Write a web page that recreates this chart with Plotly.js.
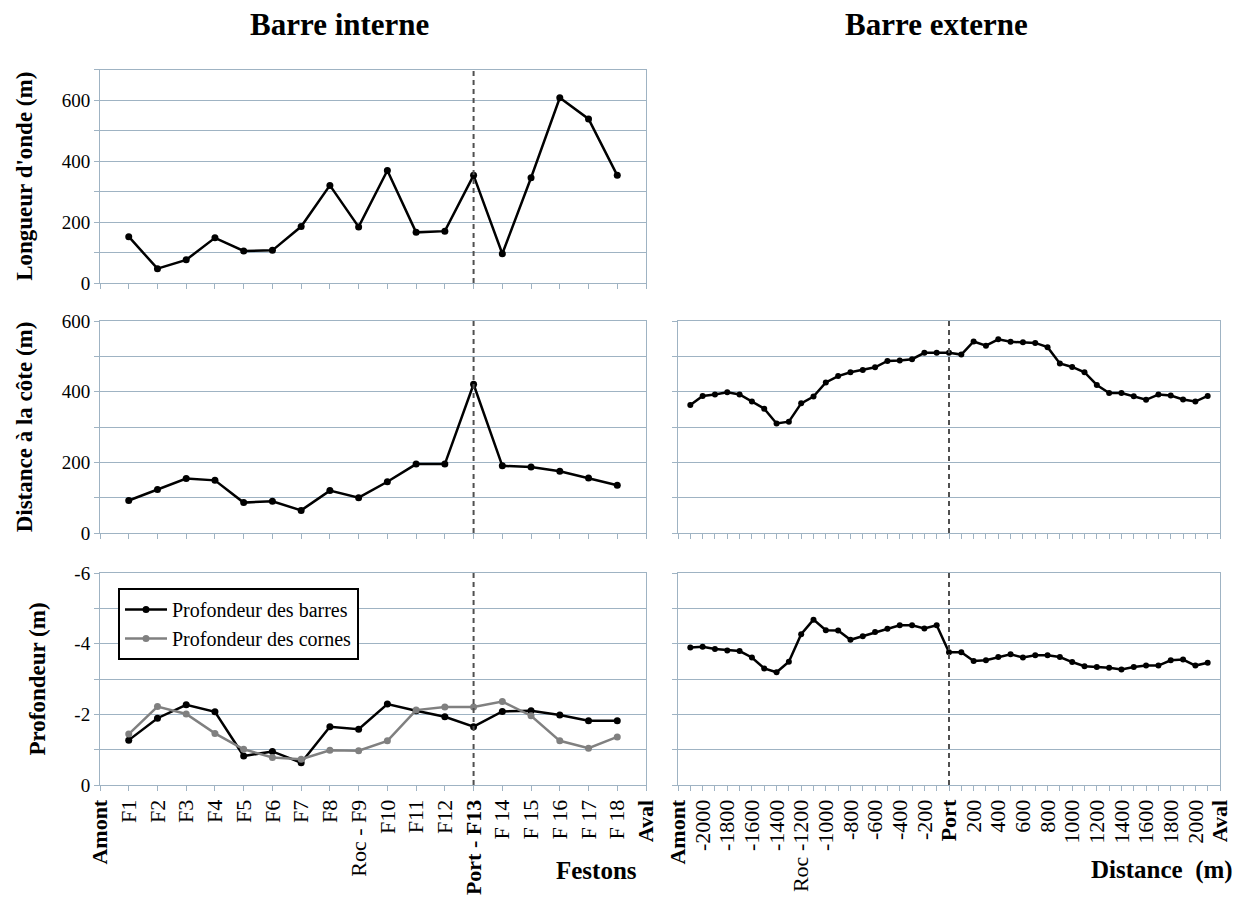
<!DOCTYPE html>
<html>
<head>
<meta charset="utf-8">
<script src="https://cdn.plot.ly/plotly-3.0.1.min.js"></script>
<style>html,body{margin:0;padding:0;background:#fff}#chart{width:1238px;height:906px}</style>
</head>
<body>
<div id="chart"></div>
<script>
// ---- Categories (Barre interne) ----
const festons = ['Amont','F1','F2','F3','F4','F5','F6','F7','F8','F9','F10','F11','F12','F13','F14','F15','F16','F17','F18','Aval'];
const festonLabels = ['<b>Amont</b>','F1','F2','F3','F4','F5','F6','F7','F8','Roc - F9','F10','F11','F12','<b>Port - F13</b>','F 14','F 15','F 16','F 17','F 18','<b>Aval</b>'];
const festonX = ['F1','F2','F3','F4','F5','F6','F7','F8','F9','F10','F11','F12','F13','F14','F15','F16','F17','F18'];

// ---- Series (Barre interne) ----
const longueurOnde = [152, 47, 76, 148, 105, 107, 185, 320, 184, 369, 166, 170, 353, 96, 345, 607, 538, 353];
const distanceCoteInterne = [92, 123, 154, 149, 86, 90, 64, 120, 100, 145, 195, 195, 421, 190, 187, 175, 156, 135];
const profondeurBarres = [-1.27, -1.89, -2.27, -2.07, -0.82, -0.95, -0.63, -1.65, -1.58, -2.29, -2.10, -1.93, -1.65, -2.08, -2.10, -1.98, -1.82, -1.82];
const profondeurCornes = [-1.44, -2.22, -2.01, -1.46, -1.01, -0.78, -0.73, -0.98, -0.97, -1.25, -2.12, -2.21, -2.21, -2.36, -1.96, -1.25, -1.04, -1.36];

// ---- Categories (Barre externe) ----
const distanceX = [-2100,-2000,-1900,-1800,-1700,-1600,-1500,-1400,-1300,-1200,-1100,-1000,-900,-800,-700,-600,-500,-400,-300,-200,-100,0,100,200,300,400,500,600,700,800,900,1000,1100,1200,1300,1400,1500,1600,1700,1800,1900,2000,2100];
const distanceCats = ['Amont'].concat(distanceX.map(String), ['Aval']);
const distanceLabels = ['<b>Amont</b>','','-2000','','-1800','','-1600','','-1400','','Roc -1200','','-1000','','-800','','-600','','-400','','-200','','<b>Port</b>','','200','','400','','600','','800','','1000','','1200','','1400','','1600','','1800','','2000','','<b>Aval</b>'];

// ---- Series (Barre externe) ----
const distanceCoteExterne = [362, 388, 392, 398, 392, 372, 352, 310, 315, 367, 386, 426, 444, 455, 461, 469, 487, 488, 492, 510, 510, 510, 505, 542, 530, 548, 541, 540, 538, 526, 480, 470, 455, 419, 396, 396, 387, 377, 392, 389, 378, 372, 388];
const profondeurExterne = [-3.89, -3.91, -3.85, -3.81, -3.79, -3.61, -3.30, -3.19, -3.49, -4.27, -4.68, -4.38, -4.37, -4.11, -4.21, -4.33, -4.42, -4.52, -4.52, -4.43, -4.52, -3.76, -3.76, -3.51, -3.53, -3.62, -3.70, -3.61, -3.67, -3.67, -3.62, -3.48, -3.36, -3.34, -3.32, -3.27, -3.34, -3.38, -3.38, -3.53, -3.55, -3.38, -3.46];

// ---- Y ticks ----
const tickLongueur = [0,100,200,300,400,500,600,700];
const tickLongueurText = ['0','','200','','400','','600',''];
const tickDistance = [0,100,200,300,400,500,600];
const tickDistanceText = ['0','','200','','400','','600'];
const tickProf = [0,-1,-2,-3,-4,-5,-6];
const tickProfText = ['0','','-2','','-4','','-6'];

const FONT = 'Liberation Serif, Times New Roman, serif';
const GRID = '#9fb3c3';
const W = 1238, H = 906;
const px = v => v / W;
const py = v => 1 - v / H;

const lineStyle = {color: '#000', width: 2.5};
const markerStyle = {color: '#000', size: 7};

const traces = [
  {x: festonX, y: longueurOnde, xaxis: 'x', yaxis: 'y', mode: 'lines+markers', line: lineStyle, marker: markerStyle, showlegend: false, name: "Longueur d'onde"},
  {x: festonX, y: distanceCoteInterne, xaxis: 'x2', yaxis: 'y2', mode: 'lines+markers', line: lineStyle, marker: markerStyle, showlegend: false, name: 'Distance'},
  {x: festonX, y: profondeurBarres, xaxis: 'x3', yaxis: 'y3', mode: 'lines+markers', line: lineStyle, marker: markerStyle, name: 'Profondeur des barres'},
  {x: festonX, y: profondeurCornes, xaxis: 'x3', yaxis: 'y3', mode: 'lines+markers', line: {color: '#808080', width: 2.5}, marker: {color: '#808080', size: 7}, name: 'Profondeur des cornes'},
  {x: distanceX.map(String), y: distanceCoteExterne, xaxis: 'x4', yaxis: 'y4', mode: 'lines+markers', line: lineStyle, marker: {color: '#000', size: 6}, showlegend: false, name: 'Distance ext'},
  {x: distanceX.map(String), y: profondeurExterne, xaxis: 'x5', yaxis: 'y5', mode: 'lines+markers', line: lineStyle, marker: {color: '#000', size: 6}, showlegend: false, name: 'Profondeur ext'}
];

const leftDom = [px(100), px(646)];
const rightDom = [px(678), px(1220)];
const topDom = [py(283), py(69.5)];
const midDom = [py(533), py(321)];
const botDom = [py(785), py(573)];

function xCat(domain, anchor, cats, labels, showLabels) {
  return {
    domain: domain, anchor: anchor, type: 'category',
    categoryorder: 'array', categoryarray: cats,
    range: [0, cats.length - 1],
    tickmode: 'array', tickvals: cats, ticktext: labels,
    showticklabels: showLabels, tickangle: -90,
    ticks: 'outside', ticklen: 5, tickcolor: GRID,
    showgrid: false, zeroline: false,
    showline: true, linecolor: GRID, linewidth: 1, mirror: true,
    tickfont: {family: FONT, size: 22, color: '#000'}
  };
}
function yLin(domain, anchor, range, vals, text, showLabels, title) {
  const a = {
    domain: domain, anchor: anchor, range: range,
    tickmode: 'array', tickvals: vals, ticktext: text,
    showticklabels: showLabels,
    ticks: 'outside', ticklen: 5, tickcolor: GRID,
    showgrid: true, gridcolor: GRID, gridwidth: 1,
    zeroline: false, showline: true, linecolor: GRID, linewidth: 1, mirror: true,
    tickfont: {family: FONT, size: 19, color: '#000'}
  };
  if (title) a.title = {text: '<b>' + title + '</b>', font: {family: FONT, size: 23, color: '#000'}, standoff: 22};
  return a;
}

const dashShape = (xref, yref, xv) => ({type: 'line', xref: xref, yref: yref + ' domain', x0: xv, x1: xv, y0: 0, y1: 1, line: {color: '#505050', width: 2, dash: '5px,4px'}});
const iF13 = festons.indexOf('F13');
const iPort = distanceCats.indexOf('0');

const layout = {
  width: W, height: H,
  margin: {l: 0, r: 0, t: 0, b: 0},
  paper_bgcolor: '#fff', plot_bgcolor: '#fff',
  font: {family: FONT, color: '#000'},
  xaxis: xCat(leftDom, 'y', festons, festonLabels, false),
  xaxis2: xCat(leftDom, 'y2', festons, festonLabels, false),
  xaxis3: xCat(leftDom, 'y3', festons, festonLabels, true),
  xaxis4: xCat(rightDom, 'y4', distanceCats, distanceLabels, false),
  xaxis5: xCat(rightDom, 'y5', distanceCats, distanceLabels, true),
  yaxis: yLin(topDom, 'x', [0, 700], tickLongueur, tickLongueurText, true, "Longueur d'onde (m)"),
  yaxis2: yLin(midDom, 'x2', [0, 600], tickDistance, tickDistanceText, true, 'Distance à la côte (m)'),
  yaxis3: yLin(botDom, 'x3', [0, -6], tickProf, tickProfText, true, 'Profondeur (m)'),
  yaxis4: yLin(midDom, 'x4', [0, 600], tickDistance, tickDistanceText, false, null),
  yaxis5: yLin(botDom, 'x5', [0, -6], tickProf, tickProfText, false, null),
  shapes: [
    dashShape('x', 'y', iF13), dashShape('x2', 'y2', iF13), dashShape('x3', 'y3', iF13),
    dashShape('x4', 'y4', iPort), dashShape('x5', 'y5', iPort)
  ],
  showlegend: true,
  legend: {
    x: px(118), y: py(588), xanchor: 'left', yanchor: 'top',
    bgcolor: '#fff', bordercolor: '#000', borderwidth: 2,
    font: {family: FONT, size: 20, color: '#000'},
    tracegroupgap: 0, itemwidth: 42
  },
  annotations: [
    {text: '<b>Barre interne</b>', x: px(339), y: py(24), xref: 'paper', yref: 'paper', xanchor: 'center', yanchor: 'middle', showarrow: false, font: {family: FONT, size: 31, color: '#000'}},
    {text: '<b>Barre externe</b>', x: px(936), y: py(24), xref: 'paper', yref: 'paper', xanchor: 'center', yanchor: 'middle', showarrow: false, font: {family: FONT, size: 31, color: '#000'}},
    {text: '<b>Festons</b>', x: px(596), y: py(870), xref: 'paper', yref: 'paper', xanchor: 'center', yanchor: 'middle', showarrow: false, font: {family: FONT, size: 25, color: '#000'}},
    {text: '<b>Distance&nbsp; (m)</b>', x: px(1162), y: py(870), xref: 'paper', yref: 'paper', xanchor: 'center', yanchor: 'middle', showarrow: false, font: {family: FONT, size: 25, color: '#000'}}
  ]
};

Plotly.newPlot('chart', traces, layout, {displayModeBar: false, staticPlot: true});
</script>
</body>
</html>
